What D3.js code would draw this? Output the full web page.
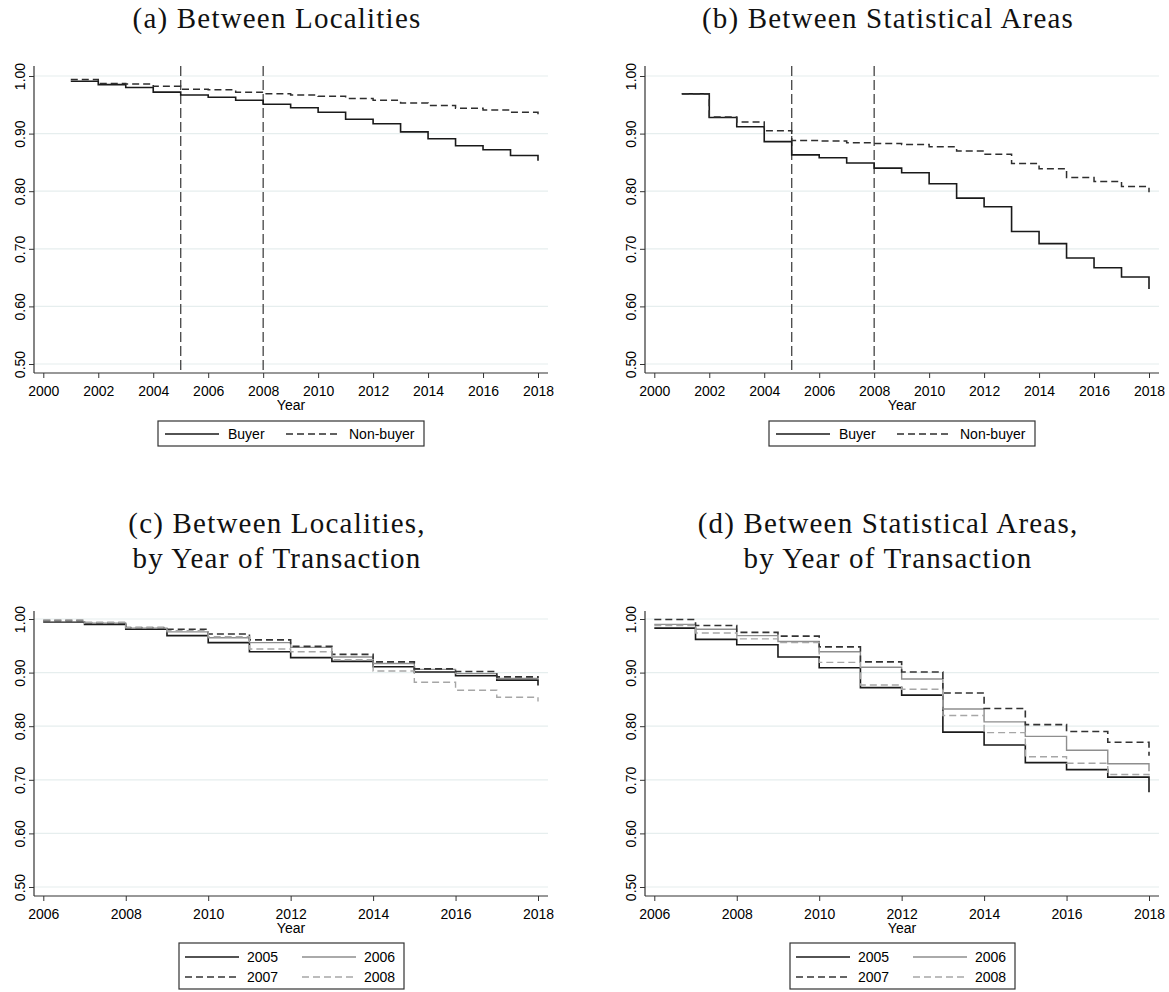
<!DOCTYPE html>
<html>
<head>
<meta charset="utf-8">
<script src="https://cdn.jsdelivr.net/npm/d3@7"></script>
<style>
  html, body { margin: 0; padding: 0; background: #fff; }
  svg { display: block; }
</style>
</head>
<body>
<svg id="chart" width="1169" height="992"></svg>
<script>
// ---- Data ----
const yearsAB = [2001,2002,2003,2004,2005,2006,2007,2008,2009,2010,2011,2012,2013,2014,2015,2016,2017,2018];
const buyerA    = [0.991,0.985,0.980,0.972,0.967,0.963,0.958,0.951,0.945,0.937,0.925,0.917,0.903,0.891,0.879,0.872,0.862,0.853];
const nonBuyerA = [0.994,0.987,0.986,0.982,0.977,0.976,0.972,0.969,0.967,0.965,0.961,0.958,0.953,0.949,0.944,0.941,0.937,0.933];
const buyerB    = [0.969,0.928,0.912,0.886,0.863,0.858,0.849,0.840,0.832,0.813,0.788,0.773,0.730,0.709,0.684,0.667,0.651,0.630];
const nonBuyerB = [0.969,0.929,0.920,0.905,0.888,0.887,0.884,0.883,0.881,0.877,0.870,0.864,0.848,0.839,0.824,0.817,0.808,0.798];

const yearsCD = [2006,2007,2008,2009,2010,2011,2012,2013,2014,2015,2016,2017,2018];
const c2005 = [0.994,0.990,0.981,0.969,0.956,0.939,0.928,0.921,0.911,0.901,0.894,0.886,0.876];
const c2006 = [0.995,0.992,0.983,0.976,0.965,0.956,0.947,0.929,0.917,0.906,0.898,0.889,0.887];
const c2007 = [0.997,0.993,0.984,0.981,0.972,0.961,0.949,0.934,0.920,0.907,0.902,0.892,0.890];
const c2008 = [0.998,0.994,0.984,0.978,0.967,0.944,0.939,0.924,0.903,0.882,0.867,0.854,0.846];
const d2005 = [0.983,0.962,0.952,0.929,0.909,0.872,0.858,0.789,0.765,0.732,0.719,0.705,0.677];
const d2006 = [0.990,0.981,0.969,0.958,0.939,0.910,0.888,0.832,0.808,0.781,0.755,0.730,0.716];
const d2007 = [0.999,0.988,0.975,0.968,0.948,0.920,0.901,0.862,0.833,0.803,0.790,0.770,0.745];
const d2008 = [0.988,0.974,0.963,0.956,0.919,0.877,0.869,0.820,0.788,0.743,0.731,0.710,0.708];

const yTicks = [0.5,0.6,0.7,0.8,0.9,1.0];
const xTicksAB = [2000,2002,2004,2006,2008,2010,2012,2014,2016,2018];
const xTicksCD = [2006,2008,2010,2012,2014,2016,2018];
const refYears = [2005, 2008];
const titles = {
  a: ["(a) Between Localities"],
  b: ["(b) Between Statistical Areas"],
  c: ["(c) Between Localities,", "by Year of Transaction"],
  d: ["(d) Between Statistical Areas,", "by Year of Transaction"]
};
const legendAB = ["Buyer", "Non-buyer"];
const legendCD = ["2005", "2006", "2007", "2008"];

// ---- Styles ----
const styleBuyer    = {stroke:"#1a1a1a", width:1.6, dash:null};
const styleNonBuyer = {stroke:"#2e2e2e", width:1.5, dash:"7,4"};
const styleCD = [
  {stroke:"#1a1a1a", width:1.6, dash:null},
  {stroke:"#8e8e8e", width:1.4, dash:null},
  {stroke:"#333333", width:1.6, dash:"7,4"},
  {stroke:"#a6a6a6", width:1.4, dash:"7,4"}
];

const svg = d3.select("#chart");
const sans = "'Liberation Sans', Arial, sans-serif";
const serif = "'Liberation Serif', 'Times New Roman', serif";

function drawPanel(p) {
  const g = svg.append("g").attr("transform", `translate(${p.ox},${p.oy})`);
  const x = d3.scaleLinear().domain(p.xDomain).range([43.3, 538]);
  const y = d3.scaleLinear().domain([0.5, 1.0]).range([p.yBottom, p.yTop]);
  const axisX = 34, right = 548;

  // titles
  p.title.forEach((t, i) => {
    g.append("text").attr("x", 277).attr("y", p.titleY + i * 35)
      .attr("text-anchor", "middle").attr("font-family", serif)
      .attr("font-size", 29).attr("letter-spacing", "1.2px")
      .attr("fill", "#111").text(t);
  });

  // gridlines
  g.append("g").selectAll("line").data(yTicks).join("line")
    .attr("x1", axisX).attr("x2", right)
    .attr("y1", d => y(d)).attr("y2", d => y(d))
    .attr("stroke", "#e6eeee").attr("stroke-width", 1.2);

  // y axis
  const ya = g.append("g").attr("transform", `translate(${axisX},0)`)
    .call(d3.axisLeft(y).tickValues(yTicks).tickFormat(d3.format(".2f")).tickSize(5));
  ya.select(".domain").remove();
  ya.selectAll(".tick line").attr("stroke", "#333");
  ya.selectAll(".tick text")
    .attr("x", null).attr("dy", null)
    .attr("transform", "translate(-9,0) rotate(-90)")
    .attr("text-anchor", "middle")
    .attr("font-family", sans).attr("font-size", 14).attr("fill", "#000");
  g.append("line").attr("x1", axisX).attr("x2", axisX)
    .attr("y1", p.axisTop).attr("y2", p.axisBottom)
    .attr("stroke", "#333").attr("stroke-width", 1.2);

  // x axis
  const xa = g.append("g").attr("transform", `translate(0,${p.axisBottom})`)
    .call(d3.axisBottom(x).tickValues(p.xTicks).tickFormat(d3.format("d")).tickSize(5));
  xa.select(".domain").remove();
  xa.selectAll(".tick line").attr("stroke", "#333");
  xa.selectAll(".tick text").attr("y", 23).attr("dy", null)
    .attr("font-family", sans).attr("font-size", 14).attr("fill", "#000");
  g.append("line").attr("x1", axisX).attr("x2", right)
    .attr("y1", p.axisBottom).attr("y2", p.axisBottom)
    .attr("stroke", "#333").attr("stroke-width", 1.2);
  g.append("text").attr("x", 291).attr("y", p.axisBottom + 37)
    .attr("text-anchor", "middle").attr("font-family", sans)
    .attr("font-size", 14).attr("fill", "#000").text("Year");

  // reference lines
  if (p.refs) {
    g.append("g").selectAll("line").data(p.refs).join("line")
      .attr("x1", d => x(d)).attr("x2", d => x(d))
      .attr("y1", p.axisTop).attr("y2", p.axisBottom)
      .attr("stroke", "#444").attr("stroke-width", 1.3)
      .attr("stroke-dasharray", "10,4");
  }

  // series
  const line = d3.line().curve(d3.curveStepAfter)
    .x(d => x(d[0])).y(d => y(d[1]));
  p.series.forEach(s => {
    const pts = p.years.map((yr, i) => [yr, s.values[i]]);
    g.append("path").datum(pts).attr("d", line)
      .attr("fill", "none").attr("stroke", s.style.stroke)
      .attr("stroke-width", s.style.width)
      .attr("stroke-dasharray", s.style.dash);
  });

  // legend
  const L = p.legend;
  const lg = g.append("g");
  lg.append("rect").attr("x", L.x).attr("y", L.y).attr("width", L.w).attr("height", L.h)
    .attr("fill", "#fff").attr("stroke", "#333").attr("stroke-width", 1.2);
  L.items.forEach(it => {
    lg.append("line").attr("x1", it.lx).attr("x2", it.lx + 54)
      .attr("y1", it.ly).attr("y2", it.ly)
      .attr("stroke", it.style.stroke).attr("stroke-width", it.style.width)
      .attr("stroke-dasharray", it.style.dash);
    lg.append("text").attr("x", it.tx).attr("y", it.ly + 5)
      .attr("font-family", sans).attr("font-size", 14).attr("fill", "#000").text(it.label);
  });
}

function legendAB_() {
  return {x:158, y:421, w:266, h:25, items:[
    {lx:165, ly:434, tx:228, label:legendAB[0], style:styleBuyer},
    {lx:286, ly:434, tx:349, label:legendAB[1], style:styleNonBuyer}
  ]};
}
function legendCD_() {
  return {x:179, y:943, w:225, h:46, items:[
    {lx:185, ly:957, tx:247, label:legendCD[0], style:styleCD[0]},
    {lx:302, ly:957, tx:364, label:legendCD[1], style:styleCD[1]},
    {lx:185, ly:977, tx:247, label:legendCD[2], style:styleCD[2]},
    {lx:302, ly:977, tx:364, label:legendCD[3], style:styleCD[3]}
  ]};
}

const common = {yTop:76, yBottom:364, axisTop:66, axisBottom:373, titleY:28,
  xDomain:[2000,2018], xTicks:xTicksAB, years:yearsAB, refs:refYears};
drawPanel(Object.assign({}, common, {ox:0, oy:0, title:titles.a,
  series:[{values:buyerA, style:styleBuyer},{values:nonBuyerA, style:styleNonBuyer}],
  legend:legendAB_()}));
drawPanel(Object.assign({}, common, {ox:611, oy:0, title:titles.b,
  series:[{values:buyerB, style:styleBuyer},{values:nonBuyerB, style:styleNonBuyer}],
  legend:legendAB_()}));

const commonCD = {yTop:619, yBottom:887, axisTop:611, axisBottom:896, titleY:533,
  xDomain:[2006,2018], xTicks:xTicksCD, years:yearsCD, refs:null};
drawPanel(Object.assign({}, commonCD, {ox:0, oy:0, title:titles.c,
  series:[{values:c2005, style:styleCD[0]},{values:c2006, style:styleCD[1]},
          {values:c2007, style:styleCD[2]},{values:c2008, style:styleCD[3]}],
  legend:legendCD_()}));
drawPanel(Object.assign({}, commonCD, {ox:611, oy:0, title:titles.d,
  series:[{values:d2005, style:styleCD[0]},{values:d2006, style:styleCD[1]},
          {values:d2007, style:styleCD[2]},{values:d2008, style:styleCD[3]}],
  legend:legendCD_()}));
</script>
</body>
</html>
